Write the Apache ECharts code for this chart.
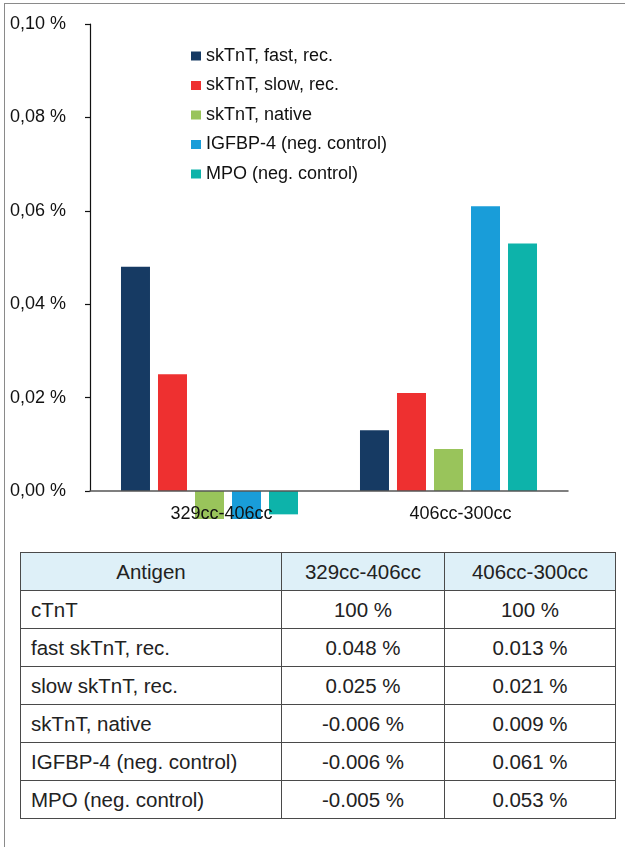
<!DOCTYPE html>
<html>
<head>
<meta charset="utf-8">
<script src="https://cdn.jsdelivr.net/npm/echarts@6/dist/echarts.min.js"></script>
<style>
  html, body { margin: 0; padding: 0; background: #fff; }
  body { width: 625px; height: 847px; position: relative; overflow: hidden; font-family: 'Liberation Sans', Arial, sans-serif; }
  #frame { position: absolute; left: 4px; top: 3px; width: 630px; height: 850px; border-top: 1.5px solid #8a8a8a; border-left: 1.5px solid #8a8a8a; }
  #chart { position: absolute; left: 0; top: 0; width: 625px; height: 540px; }
  #tbl { position: absolute; left: 20px; top: 552px; border-collapse: collapse; font-size: 20.5px; color: #222; }
  #tbl td { border: 1.3px solid #4a4a4a; height: 37px; padding: 0; text-align: center; }
  #tbl td.lab { text-align: left; padding-left: 10px; }
  #tbl tr.head td { background: #def0f8; text-align: center; padding-left: 0; }
</style>
</head>
<body>
<div id="frame"></div>
<div id="chart"></div>
<table id="tbl"></table>
<script>
// ---- data ----
const categories = ['329cc-406cc', '406cc-300cc'];
const seriesNames = ['skTnT, fast, rec.', 'skTnT, slow, rec.', 'skTnT, native', 'IGFBP-4 (neg. control)', 'MPO (neg. control)'];
const fastRec = [0.048, 0.013];
const slowRec = [0.025, 0.021];
const native = [-0.006, 0.009];
const igfbp4 = [-0.006, 0.061];
const mpo = [-0.005, 0.053];
const seriesColors = ['#163a63', '#ee3030', '#99c45b', '#199dd9', '#0db3aa'];
const yTicks = [0, 0.02, 0.04, 0.06, 0.08, 0.10];
const tableHeader = ['Antigen', '329cc-406cc', '406cc-300cc'];
const tableRowLabels = ['cTnT', 'fast skTnT, rec.', 'slow skTnT, rec.', 'skTnT, native', 'IGFBP-4 (neg. control)', 'MPO (neg. control)'];
const cTnT = [100, 100];

// ---- chart ----
const allValues = [fastRec, slowRec, native, igfbp4, mpo];
const font = "'Liberation Sans', Arial, sans-serif";
const chart = echarts.init(document.getElementById('chart'), null, { renderer: 'canvas' });
chart.setOption({
  animation: false,
  textStyle: { fontFamily: font },
  legend: {
    orient: 'vertical', left: 186, top: 42,
    itemWidth: 10, itemHeight: 9, itemGap: 11.5,
    icon: 'rect',
    textStyle: { fontSize: 18, lineHeight: 18, color: '#111', fontFamily: font },
    data: seriesNames
  },
  grid: { left: 90, right: 57, top: 24, height: 467, containLabel: false },
  xAxis: {
    type: 'category', data: categories, z: 10,
    axisLine: { show: true, onZero: true, lineStyle: { color: '#555', width: 1.5 } },
    axisTick: { show: false },
    axisLabel: { fontSize: 18, color: '#111', margin: 14, padding: [0, 0, 0, 24], fontFamily: font }
  },
  yAxis: {
    type: 'value', min: yTicks[0], max: yTicks[yTicks.length - 1], interval: 0.02,
    axisLine: { show: true, lineStyle: { color: '#111', width: 1.2 } },
    axisTick: { show: true, inside: false, length: 5, lineStyle: { color: '#111', width: 1.2 } },
    splitLine: { show: false },
    axisLabel: { fontSize: 18, color: '#111', margin: 24, fontFamily: font,
      formatter: v => v.toFixed(2).replace('.', ',') + ' %' }
  },
  series: seriesNames.map((n, i) => ({
    name: n, type: 'bar', data: allValues[i], clip: false,
    barWidth: 29, barGap: '27.6%',
    itemStyle: { color: seriesColors[i] }
  }))
});

// ---- table ----
const tbl = document.getElementById('tbl');
const colWidths = [261, 163, 171];
let html = '<colgroup>' + colWidths.map(w => '<col style="width:' + w + 'px">').join('') + '</colgroup>';
html += '<tr class="head">' + tableHeader.map(h => '<td>' + h + '</td>').join('') + '</tr>';
const rowValues = [cTnT].concat(allValues);
tableRowLabels.forEach((lab, r) => {
  const vals = rowValues[r];
  html += '<tr><td class="lab">' + lab + '</td>' + vals.map(v => '<td>' + (r === 0 ? v + ' %' : v.toFixed(3) + ' %') + '</td>').join('') + '</tr>';
});
tbl.innerHTML = html;
</script>
</body>
</html>
